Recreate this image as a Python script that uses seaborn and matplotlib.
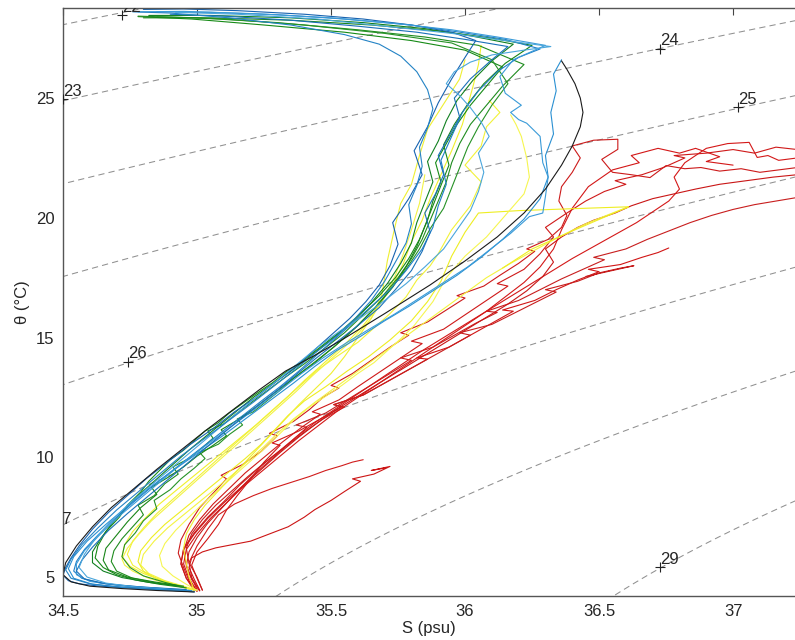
import numpy as np
import pandas as pd
import seaborn as sns
import matplotlib
matplotlib.use('Agg')
import matplotlib.pyplot as plt
import matplotlib.transforms as mtransforms

# ---- profiles: salinity S (psu) and potential temperature theta (degC) ----
# blue group
b1_s = [34.99, 34.90, 34.82, 34.72, 34.63, 34.56, 34.52, 34.50, 34.51, 34.53, 34.56, 34.61, 34.67, 34.74, 34.81,
        34.89, 34.97, 35.06, 35.14, 35.22, 35.30, 35.37, 35.43, 35.50, 35.57, 35.63, 35.68, 35.72, 35.75, 35.73,
        35.79, 35.84, 35.81, 35.86, 35.90, 35.95, 36.00, 36.04, 35.95, 35.80, 35.62, 35.40, 35.15, 34.95, 34.80]
b1_t = [4.38, 4.45, 4.50, 4.56, 4.63, 4.72, 4.85, 5.08, 5.40, 5.80, 6.30, 7.00, 7.70, 8.40, 9.10,
        9.80, 10.50, 11.20, 11.90, 12.50, 13.20, 13.80, 14.40, 15.10, 15.80, 16.50, 17.20, 18.00, 18.90, 19.80,
        20.80, 21.80, 22.80, 23.80, 24.80, 25.80, 26.70, 27.40, 27.75, 28.05, 28.30, 28.50, 28.65, 28.72, 28.70]
b2_s = [34.97, 34.86, 34.74, 34.64, 34.57, 34.54, 34.55, 34.58, 34.63, 34.69, 34.76, 34.84, 34.92, 35.00, 35.08,
        35.16, 35.24, 35.31, 35.38, 35.44, 35.51, 35.58, 35.65, 35.72, 35.78, 35.84, 35.88, 35.90, 35.93, 35.91,
        35.95, 35.99, 36.05, 36.12, 36.20, 36.28, 36.15, 35.98, 35.80, 35.55, 35.30, 35.05, 34.85]
b2_t = [4.42, 4.52, 4.62, 4.75, 4.95, 5.25, 5.65, 6.15, 6.75, 7.40, 8.10, 8.85, 9.55, 10.25, 10.95,
        11.65, 12.35, 12.95, 13.60, 14.20, 14.90, 15.60, 16.30, 17.00, 17.80, 18.70, 19.60, 20.50, 21.40, 22.40,
        23.40, 24.40, 25.30, 26.10, 26.70, 27.05, 27.45, 27.75, 28.05, 28.30, 28.48, 28.58, 28.60]
b3_s = [34.98, 34.85, 34.72, 34.61, 34.54, 34.52, 34.54, 34.59, 34.66, 34.74, 34.82, 34.91, 35.00, 35.09, 35.18,
        35.27, 35.36, 35.44, 35.52, 35.61, 35.70, 35.79, 35.88, 35.97, 36.06, 36.14, 36.22, 36.28, 36.31, 36.30,
        36.33, 36.32, 36.34, 36.33, 36.36]
b3_t = [4.40, 4.48, 4.57, 4.70, 4.95, 5.35, 5.85, 6.50, 7.20, 7.95, 8.70, 9.45, 10.15, 10.85, 11.60,
        12.35, 13.10, 13.80, 14.45, 15.05, 15.70, 16.30, 16.95, 17.60, 18.35, 19.10, 19.95, 20.80, 21.70, 22.60,
        23.50, 24.40, 25.30, 26.00, 26.60]
b4_s = [34.97, 34.84, 34.70, 34.60, 34.55, 34.55, 34.58, 34.64, 34.71, 34.79, 34.87, 34.95, 35.04, 35.13, 35.22,
        35.31, 35.39, 35.47, 35.56, 35.65, 35.74, 35.83, 35.92, 36.01, 36.09, 36.17, 36.24, 36.29, 36.30, 36.31,
        36.29, 36.28, 36.23, 36.20, 36.17, 36.21, 36.15, 36.13, 36.18, 36.30, 36.12, 35.95, 35.75, 35.50, 35.22,
        34.95, 34.78]
b4_t = [4.45, 4.55, 4.66, 4.82, 5.10, 5.55, 6.10, 6.80, 7.55, 8.30, 9.05, 9.80, 10.55, 11.30, 12.05,
        12.80, 13.50, 14.15, 14.80, 15.40, 16.00, 16.65, 17.30, 17.95, 18.65, 19.35, 20.05, 20.20, 20.90, 21.70,
        22.30, 23.40, 23.95, 24.10, 24.40, 24.70, 25.20, 25.90, 26.60, 27.20, 27.55, 27.85, 28.10, 28.35, 28.52,
        28.62, 28.60]
b5_s = [34.96, 34.80, 34.66, 34.58, 34.55, 34.57, 34.61, 34.67, 34.74, 34.82, 34.90, 34.98, 35.06, 35.14, 35.22,
        35.30, 35.37, 35.44, 35.52, 35.60, 35.68, 35.74, 35.80, 35.84, 35.87, 35.85, 35.89, 35.92, 35.90, 35.94,
        35.98, 35.96, 36.02, 36.10, 36.16, 36.00, 35.82, 35.60, 35.35, 35.10, 34.90]
b5_t = [4.48, 4.58, 4.72, 4.92, 5.25, 5.70, 6.25, 6.95, 7.65, 8.40, 9.15, 9.90, 10.65, 11.40, 12.10,
        12.80, 13.45, 14.10, 14.80, 15.50, 16.25, 17.00, 17.80, 18.60, 19.40, 20.20, 21.00, 21.80, 22.60, 23.40,
        24.20, 25.00, 25.80, 26.60, 27.15, 27.45, 27.75, 28.00, 28.25, 28.42, 28.50]
b6_s = [34.99, 34.88, 34.76, 34.66, 34.59, 34.56, 34.58, 34.62, 34.68, 34.75, 34.83, 34.91, 34.99, 35.07, 35.15,
        35.23, 35.31, 35.38, 35.45, 35.53, 35.62, 35.70, 35.78, 35.85, 35.92, 35.97, 36.02, 36.05, 36.07, 36.05,
        36.09, 36.06, 36.02, 35.98, 35.93, 35.96, 36.02, 36.10, 36.22, 36.32, 36.15, 35.95, 35.70, 35.45, 35.15,
        34.92]
b6_t = [4.40, 4.50, 4.60, 4.75, 5.00, 5.40, 5.95, 6.60, 7.35, 8.10, 8.85, 9.60, 10.35, 11.10, 11.85,
        12.60, 13.30, 13.95, 14.60, 15.25, 15.90, 16.55, 17.25, 17.95, 18.70, 19.50, 20.30, 21.10, 21.90, 22.70,
        23.40, 24.00, 24.60, 25.10, 25.60, 26.10, 26.50, 26.80, 27.00, 27.15, 27.40, 27.70, 28.00, 28.30, 28.50,
        28.58]
b7_s = [34.98, 34.85, 34.70, 34.60, 34.53, 34.51, 34.53, 34.57, 34.63, 34.70, 34.78, 34.86, 34.94, 35.03, 35.12,
        35.21, 35.29, 35.37, 35.44, 35.52, 35.59, 35.65, 35.70, 35.74, 35.78, 35.80, 35.79, 35.82, 35.84, 35.83,
        35.86, 35.88, 35.86, 35.82, 35.76, 35.68, 35.55, 35.35, 35.12, 34.90, 34.76]
b7_t = [4.43, 4.50, 4.60, 4.72, 4.95, 5.30, 5.75, 6.35, 7.05, 7.80, 8.55, 9.30, 10.05, 10.80, 11.55,
        12.30, 13.00, 13.70, 14.35, 15.05, 15.80, 16.55, 17.35, 18.15, 18.95, 19.75, 20.55, 21.35, 22.15, 22.95,
        23.75, 24.55, 25.35, 26.10, 26.75, 27.25, 27.65, 28.05, 28.35, 28.55, 28.60]

# green group
g1_s = [34.96, 34.86, 34.77, 34.70, 34.65, 34.62, 34.63, 34.66, 34.71, 34.74, 34.79, 34.82, 34.86, 34.90, 34.95,
        34.99, 35.03, 35.08, 35.12, 35.17, 35.22, 35.28, 35.33, 35.39, 35.46, 35.54, 35.61, 35.68, 35.74, 35.79,
        35.83, 35.86, 35.88, 35.91, 35.89, 35.93, 35.97, 36.02, 36.08, 36.14, 36.00, 35.80, 35.55, 35.25, 34.98,
        34.78]
g1_t = [4.55, 4.70, 4.88, 5.10, 5.40, 5.80, 6.30, 6.90, 7.50, 8.00, 8.55, 9.00, 9.45, 9.90, 10.30,
        10.70, 11.10, 11.45, 11.85, 12.25, 12.65, 13.10, 13.55, 14.00, 14.60, 15.30, 16.00, 16.75, 17.50, 18.30,
        19.10, 19.90, 20.70, 21.50, 22.30, 23.10, 23.90, 24.70, 25.50, 26.30, 27.00, 27.40, 27.75, 28.05, 28.30,
        28.40]
g2_s = [34.94, 34.85, 34.76, 34.70, 34.68, 34.69, 34.72, 34.76, 34.80, 34.78, 34.84, 34.88, 34.93, 34.91, 34.97,
        35.02, 35.06, 35.04, 35.10, 35.15, 35.21, 35.27, 35.33, 35.40, 35.47, 35.55, 35.62, 35.69, 35.75, 35.80,
        35.84, 35.87, 35.90, 35.93, 35.95, 35.98, 36.02, 36.08, 36.14, 36.22, 36.05, 35.85, 35.60, 35.30, 35.00,
        34.78]
g2_t = [4.60, 4.75, 4.95, 5.25, 5.65, 6.10, 6.60, 7.10, 7.60, 8.00, 8.40, 8.90, 9.30, 9.60, 9.95,
        10.40, 10.80, 11.10, 11.40, 11.85, 12.35, 12.85, 13.35, 13.90, 14.50, 15.20, 15.95, 16.70, 17.50, 18.30,
        19.10, 19.90, 20.70, 21.50, 22.30, 23.10, 23.90, 24.70, 25.50, 26.40, 27.20, 27.55, 27.85, 28.15, 28.35,
        28.42]
g3_s = [34.95, 34.82, 34.72, 34.65, 34.61, 34.61, 34.64, 34.68, 34.73, 34.79, 34.85, 34.91, 34.97, 35.03, 35.09,
        35.15, 35.21, 35.28, 35.35, 35.42, 35.50, 35.58, 35.65, 35.71, 35.76, 35.80, 35.82, 35.85, 35.88, 35.86,
        35.90, 35.93, 35.97, 36.03, 36.10, 36.18, 36.02, 35.85, 35.62, 35.35, 35.05, 34.82]
g3_t = [4.62, 4.78, 4.98, 5.25, 5.60, 6.05, 6.60, 7.20, 7.85, 8.50, 9.10, 9.70, 10.30, 10.85, 11.40,
        11.95, 12.50, 13.05, 13.60, 14.20, 14.90, 15.65, 16.45, 17.25, 18.10, 18.95, 19.80, 20.65, 21.50, 22.35,
        23.20, 24.05, 24.90, 25.75, 26.55, 27.25, 27.60, 27.90, 28.15, 28.35, 28.45, 28.45]
g4_s = [34.95, 34.88, 34.80, 34.75, 34.72, 34.73, 34.77, 34.80, 34.85, 34.84, 34.90, 34.94, 34.99, 35.03, 35.01,
        35.08, 35.12, 35.17, 35.15, 35.21, 35.26, 35.31, 35.36, 35.43, 35.51, 35.59, 35.66, 35.72, 35.78, 35.83,
        35.87, 35.92, 35.95, 35.98, 36.01, 36.05, 36.10, 36.16, 36.10, 35.95, 35.70, 35.40, 35.10, 34.85]
g4_t = [4.58, 4.78, 5.05, 5.40, 5.85, 6.35, 6.85, 7.35, 7.85, 8.20, 8.65, 9.10, 9.55, 9.95, 10.20,
        10.55, 10.95, 11.35, 11.60, 11.90, 12.35, 12.80, 13.30, 13.90, 14.60, 15.40, 16.20, 17.00, 17.85, 18.70,
        19.55, 20.40, 21.25, 22.10, 22.95, 23.80, 24.70, 25.60, 26.60, 27.30, 27.70, 28.05, 28.30, 28.40]
g5_s = [34.93, 34.84, 34.74, 34.67, 34.65, 34.66, 34.70, 34.74, 34.79, 34.85, 34.83, 34.89, 34.95, 35.00, 35.06,
        35.11, 35.09, 35.15, 35.22, 35.29, 35.36, 35.44, 35.52, 35.60, 35.67, 35.73, 35.78, 35.82, 35.85, 35.88,
        35.91, 35.94, 35.92, 35.96, 36.01, 36.07, 36.15, 36.25, 36.10, 35.90, 35.65, 35.35, 35.05, 34.80]
g5_t = [4.65, 4.80, 5.00, 5.30, 5.70, 6.20, 6.75, 7.30, 7.90, 8.45, 8.75, 9.15, 9.60, 10.05, 10.50,
        10.90, 11.15, 11.55, 12.10, 12.70, 13.30, 13.95, 14.70, 15.50, 16.30, 17.10, 17.95, 18.80, 19.65, 20.50,
        21.35, 22.20, 23.05, 23.90, 24.75, 25.60, 26.45, 27.20, 27.50, 27.80, 28.05, 28.25, 28.35, 28.35]

# yellow group
y1_s = [34.99, 34.93, 34.86, 34.80, 34.75, 34.72, 34.73, 34.76, 34.81, 34.86, 34.92, 34.98, 35.04, 35.10, 35.16,
        35.22, 35.28, 35.34, 35.40, 35.47, 35.55, 35.62, 35.68, 35.73, 35.77, 35.80, 35.84, 35.87, 35.91, 35.95,
        35.99, 36.03, 36.05, 36.06]
y1_t = [4.45, 4.65, 4.90, 5.15, 5.45, 5.85, 6.35, 6.90, 7.50, 8.05, 8.60, 9.15, 9.70, 10.25, 10.80,
        11.35, 11.95, 12.55, 13.20, 13.90, 14.70, 15.50, 16.35, 17.20, 18.10, 19.00, 19.90, 20.80, 21.80, 22.80,
        23.90, 25.50, 26.40, 27.20]
y2_s = [35.00, 34.95, 34.88, 34.82, 34.79, 34.80, 34.84, 34.89, 34.95, 35.01, 35.07, 35.13, 35.19, 35.25, 35.30,
        35.36, 35.44, 35.52, 35.60, 35.68, 35.76, 35.84, 35.92, 36.00, 36.08, 36.17, 36.26, 36.35, 36.45, 36.55,
        36.61]
y2_t = [4.45, 4.62, 4.85, 5.15, 5.50, 5.95, 6.50, 7.05, 7.60, 8.15, 8.70, 9.25, 9.85, 10.45, 11.00,
        11.60, 12.30, 12.95, 13.60, 14.25, 14.90, 15.55, 16.20, 16.85, 17.50, 18.10, 18.65, 19.20, 19.75, 20.20,
        20.46]
y3_s = [34.98, 34.92, 34.85, 34.80, 34.78, 34.79, 34.83, 34.88, 34.94, 35.00, 35.06, 35.12, 35.18, 35.24, 35.29,
        35.34, 35.40, 35.48, 35.56, 35.64, 35.72, 35.80, 35.86, 35.91, 35.95, 36.00, 36.05, 36.20, 36.40, 36.61,
        36.40, 36.25, 36.14]
y3_t = [4.47, 4.65, 4.92, 5.25, 5.65, 6.10, 6.65, 7.20, 7.75, 8.30, 8.85, 9.40, 9.95, 10.55, 11.15,
        11.75, 12.35, 12.95, 13.60, 14.20, 14.90, 15.70, 16.50, 17.35, 18.40, 19.40, 20.20, 20.30, 20.38, 20.46,
        19.45, 18.70, 17.90]
y4_s = [34.99, 34.94, 34.87, 34.81, 34.76, 34.74, 34.76, 34.80, 34.85, 34.91, 34.97, 35.03, 35.09, 35.15, 35.21,
        35.27, 35.33, 35.39, 35.45, 35.52, 35.60, 35.66, 35.72, 35.78, 35.82, 35.87, 35.90, 35.95, 36.02, 36.06,
        36.00, 36.06, 36.08, 36.13, 36.09]
y4_t = [4.45, 4.62, 4.85, 5.15, 5.50, 5.95, 6.50, 7.05, 7.65, 8.25, 8.85, 9.45, 10.05, 10.65, 11.25,
        11.85, 12.45, 13.05, 13.65, 14.20, 14.80, 15.40, 16.00, 16.70, 17.40, 18.00, 18.50, 19.50, 20.50, 21.50,
        22.20, 23.00, 23.80, 24.40, 24.90]
y5_s = [35.00, 34.96, 34.91, 34.87, 34.86, 34.88, 34.92, 34.97, 35.02, 35.08, 35.14, 35.20, 35.26, 35.31, 35.36,
        35.42, 35.48, 35.54, 35.60, 35.66, 35.71, 35.76, 35.81, 35.88, 35.93, 36.00, 36.08, 36.15, 36.22, 36.24,
        36.23, 36.21, 36.19, 36.17]
y5_t = [4.45, 4.70, 5.05, 5.45, 5.90, 6.40, 6.95, 7.50, 8.05, 8.65, 9.25, 9.85, 10.45, 11.00, 11.55,
        12.10, 12.55, 13.00, 13.50, 13.95, 14.45, 14.95, 15.50, 16.50, 17.50, 18.40, 19.20, 20.10, 21.00, 21.70,
        22.50, 23.40, 23.90, 24.30]
y6_s = [34.99, 34.97, 34.96, 34.95, 34.96, 34.99, 35.03, 35.08, 35.13, 35.18, 35.23, 35.28, 35.33, 35.38, 35.44,
        35.50, 35.55, 35.60, 35.65, 35.69, 35.71, 35.74, 35.76, 35.80, 35.83, 35.86, 35.92, 35.98, 36.00]
y6_t = [4.45, 5.00, 5.60, 6.20, 6.80, 7.40, 8.00, 8.60, 9.20, 9.80, 10.40, 11.00, 11.60, 12.20, 12.85,
        13.50, 14.20, 15.00, 15.80, 16.80, 18.20, 19.70, 20.60, 21.40, 22.60, 23.70, 24.75, 25.80, 26.60]
y7_s = [34.98, 34.90, 34.82, 34.76, 34.73, 34.72, 34.74, 34.78, 34.83, 34.89, 34.95, 35.01, 35.07, 35.13, 35.19,
        35.25, 35.31, 35.37, 35.43, 35.50, 35.58, 35.65, 35.70, 35.74, 35.77, 35.80, 35.83, 35.85]
y7_t = [4.50, 4.70, 4.95, 5.25, 5.50, 5.75, 6.20, 6.75, 7.35, 7.95, 8.55, 9.15, 9.75, 10.35, 10.95,
        11.55, 12.15, 12.75, 13.40, 14.10, 14.90, 15.80, 16.70, 17.60, 18.50, 19.50, 20.60, 21.80]

# red group
r1_s = [35.00, 34.97, 34.95, 34.93, 34.94, 34.97, 35.01, 35.06, 35.11, 35.09, 35.17, 35.24, 35.30, 35.27, 35.36,
        35.42, 35.47, 35.53, 35.50, 35.58, 35.65, 35.72, 35.79, 35.76, 35.86, 35.93, 36.00, 35.97, 36.07, 36.13,
        36.20, 36.26, 36.23, 36.31, 36.36, 36.38, 36.35, 36.36, 36.40, 36.43, 36.40, 36.48, 36.57, 36.57, 36.51,
        36.55, 36.62, 36.69, 36.75, 36.82, 36.88, 36.95, 37.03, 37.10, 37.17, 37.24]
r1_t = [4.40, 4.85, 5.40, 6.00, 6.55, 7.20, 7.90, 8.50, 9.10, 9.25, 9.70, 10.25, 10.90, 11.00, 11.50,
        12.00, 12.50, 12.90, 13.00, 13.50, 14.05, 14.60, 15.10, 15.20, 15.65, 16.15, 16.65, 16.75, 17.15, 17.60,
        18.10, 18.60, 18.70, 19.10, 19.60, 20.10, 20.70, 21.30, 21.90, 22.50, 23.00, 23.24, 23.28, 22.86, 22.44,
        21.90, 21.80, 21.68, 22.18, 22.05, 22.10, 21.95, 22.05, 21.90, 22.00, 22.10]
r2_s = [35.02, 35.00, 34.98, 35.00, 35.04, 35.08, 35.11, 35.15, 35.20, 35.25, 35.31, 35.28, 35.38, 35.46, 35.54,
        35.51, 35.62, 35.70, 35.78, 35.86, 35.82, 35.94, 36.02, 36.10, 36.18, 36.14, 36.26, 36.34, 36.42, 36.50,
        36.46, 36.58, 36.66, 36.72, 36.76]
r2_t = [4.45, 4.95, 5.50, 6.05, 6.60, 7.20, 7.80, 8.40, 9.10, 9.80, 10.50, 10.60, 11.10, 11.60, 12.10,
        12.20, 12.60, 13.10, 13.60, 14.10, 14.15, 14.60, 15.10, 15.60, 16.10, 16.15, 16.55, 17.00, 17.40, 17.75,
        17.85, 18.05, 18.35, 18.55, 18.74]
r3_s = [35.01, 34.98, 34.96, 34.97, 35.00, 35.04, 35.09, 35.14, 35.20, 35.27, 35.34, 35.41, 35.37, 35.48, 35.56,
        35.64, 35.72, 35.80, 35.76, 35.88, 35.96, 36.04, 36.12, 36.08, 36.20, 36.28, 36.36, 36.44, 36.52, 36.48,
        36.60, 36.68, 36.76, 36.84, 36.92, 37.00, 37.08, 37.16, 37.24]
r3_t = [4.42, 4.90, 5.45, 6.05, 6.65, 7.25, 7.85, 8.45, 9.15, 9.85, 10.55, 11.25, 11.35, 11.85, 12.40,
        12.95, 13.50, 14.05, 14.15, 14.60, 15.10, 15.60, 16.05, 16.10, 16.55, 17.00, 17.45, 17.85, 18.25, 18.35,
        18.70, 19.10, 19.45, 19.80, 20.10, 20.35, 20.55, 20.70, 20.85]
r4_s = [35.00, 34.96, 34.94, 34.95, 34.99, 35.04, 35.10, 35.16, 35.23, 35.30, 35.37, 35.44, 35.52, 35.60, 35.68,
        35.76, 35.84, 35.92, 36.00, 36.08, 36.16, 36.24, 36.32, 36.40, 36.48, 36.56, 36.64, 36.70, 36.76, 36.80,
        36.78, 36.82, 36.90, 36.98, 37.06, 37.09, 37.13, 37.17, 37.24]
r4_t = [4.42, 4.95, 5.55, 6.20, 6.85, 7.50, 8.15, 8.85, 9.55, 10.20, 10.85, 11.45, 12.05, 12.65, 13.25,
        13.85, 14.45, 15.00, 15.55, 16.10, 16.65, 17.20, 17.75, 18.30, 18.80, 19.30, 19.80, 20.25, 20.70, 21.20,
        21.70, 22.30, 22.90, 23.10, 23.15, 22.52, 22.60, 22.40, 22.50]
r5_s = [35.01, 34.99, 34.97, 34.98, 35.02, 35.07, 35.13, 35.20, 35.27, 35.34, 35.40, 35.44, 35.50, 35.55, 35.61,
        35.58, 35.66, 35.72, 35.65, 35.70]
r5_t = [4.45, 4.90, 5.40, 5.80, 6.05, 6.22, 6.35, 6.50, 6.80, 7.10, 7.50, 7.82, 8.20, 8.57, 9.00,
        9.10, 9.30, 9.62, 9.45, 9.55]
r6_s = [35.00, 34.98, 34.97, 35.00, 35.04, 35.08, 35.14, 35.21, 35.28, 35.35, 35.42, 35.48, 35.54, 35.58, 35.62]
r6_t = [4.48, 5.00, 5.60, 6.30, 7.00, 7.60, 8.05, 8.40, 8.70, 8.95, 9.20, 9.45, 9.65, 9.80, 9.90]
r7_s = [34.99, 34.96, 34.94, 34.95, 34.99, 35.04, 35.10, 35.17, 35.24, 35.31, 35.38, 35.45, 35.52, 35.60, 35.68,
        35.76, 35.84, 35.92, 36.00, 36.08, 36.16, 36.23, 36.29, 36.33, 36.30, 36.36, 36.42, 36.48, 36.56, 36.62,
        36.70, 36.78, 36.86, 36.95, 37.05, 37.15, 37.24]
r7_t = [4.42, 4.95, 5.55, 6.15, 6.80, 7.45, 8.10, 8.80, 9.50, 10.20, 10.85, 11.45, 12.00, 12.55, 13.10,
        13.65, 14.20, 14.75, 15.30, 15.85, 16.40, 16.95, 17.55, 18.15, 18.70, 19.20, 19.60, 19.90, 20.20, 20.50,
        20.80, 21.00, 21.20, 21.40, 21.55, 21.70, 21.80]
r8_s = [35.01, 34.98, 34.96, 34.95, 34.97, 35.01, 35.06, 35.12, 35.18, 35.25, 35.32, 35.39, 35.46, 35.43, 35.53,
        35.60, 35.68, 35.76, 35.84, 35.80, 35.92, 36.00, 36.08, 36.16, 36.12, 36.22, 36.28, 36.33, 36.30, 36.38,
        36.45, 36.52, 36.60, 36.56, 36.66, 36.74, 36.82, 36.78, 36.90, 37.00, 37.08, 37.16, 37.24]
r8_t = [4.44, 4.95, 5.50, 6.10, 6.75, 7.40, 8.05, 8.70, 9.35, 10.00, 10.65, 11.25, 11.80, 11.90, 12.40,
        12.95, 13.55, 14.15, 14.75, 14.85, 15.35, 15.95, 16.55, 17.15, 17.25, 17.85, 18.50, 19.20, 19.60, 20.20,
        20.70, 21.10, 21.40, 21.55, 21.80, 22.10, 22.50, 22.60, 22.70, 22.85, 22.70, 22.95, 22.85]
r9_s = [35.02, 35.00, 34.97, 34.96, 34.98, 35.02, 35.07, 35.13, 35.19, 35.26, 35.33, 35.40, 35.47, 35.55, 35.51,
        35.62, 35.70, 35.78, 35.86, 35.94, 36.02, 35.98, 36.10, 36.18, 36.26, 36.34, 36.30, 36.42, 36.50, 36.58,
        36.63, 36.55, 36.45]
r9_t = [4.46, 5.00, 5.60, 6.20, 6.80, 7.40, 8.00, 8.60, 9.20, 9.85, 10.45, 11.05, 11.60, 12.10, 12.20,
        12.60, 13.10, 13.60, 14.10, 14.60, 15.10, 15.20, 15.55, 16.00, 16.45, 16.90, 17.00, 17.35, 17.70, 17.90,
        18.00, 17.80, 17.55]
r10_s = [35.00, 34.97, 34.95, 34.96, 35.00, 35.05, 35.11, 35.17, 35.24, 35.31, 35.38, 35.45, 35.52, 35.60, 35.68,
         35.76, 35.84, 35.92, 36.00, 36.08, 36.15, 36.22, 36.28, 36.33, 36.36, 36.40, 36.46, 36.55, 36.65, 36.62,
         36.72, 36.80, 36.86, 36.95, 36.90, 37.00]
r10_t = [4.43, 4.95, 5.55, 6.15, 6.80, 7.45, 8.10, 8.75, 9.40, 10.05, 10.70, 11.30, 11.90, 12.50, 13.10,
         13.70, 14.30, 14.90, 15.50, 16.10, 16.70, 17.30, 17.95, 18.70, 19.50, 20.40, 21.30, 22.00, 22.30, 22.60,
         22.90, 22.70, 22.90, 22.55, 22.35, 22.20]

# black profile
k1_s = [34.99, 34.85, 34.72, 34.60, 34.53, 34.50, 34.51, 34.55, 34.61, 34.68, 34.76, 34.85, 34.94, 35.03, 35.13,
        35.23, 35.33, 35.43, 35.54, 35.70, 35.87, 36.00, 36.12, 36.22, 36.30, 36.36, 36.40, 36.43, 36.44, 36.43,
        36.41, 36.38, 36.36]
k1_t = [4.38, 4.44, 4.52, 4.62, 4.80, 5.10, 5.60, 6.30, 7.10, 7.90, 8.65, 9.50, 10.30, 11.10, 11.95,
        12.80, 13.60, 14.20, 14.90, 16.00, 17.20, 18.20, 19.20, 20.20, 21.20, 22.20, 23.00, 23.80, 24.40, 25.00,
        25.60, 26.20, 26.55]

# density contour levels and clabel positions
sigma_levels = [22, 23, 24, 25, 26, 27, 28, 29]
lab_s = [34.72, 34.50, 36.728, 37.02, 34.743, 34.462, 36.728]
lab_t = [28.45, 24.96, 27.06, 24.62, 13.99, 7.09, 5.42]
lab_txt = ['22', '23', '24', '25', '26', '27', '29']

profiles = [
    ('r1', r1_s, r1_t), ('r2', r2_s, r2_t), ('r3', r3_s, r3_t), ('r4', r4_s, r4_t),
    ('r5', r5_s, r5_t), ('r6', r6_s, r6_t), ('r7', r7_s, r7_t), ('r8', r8_s, r8_t),
    ('r9', r9_s, r9_t), ('r10', r10_s, r10_t),
    ('y1', y1_s, y1_t), ('y2', y2_s, y2_t), ('y3', y3_s, y3_t), ('y4', y4_s, y4_t),
    ('y5', y5_s, y5_t), ('y6', y6_s, y6_t), ('y7', y7_s, y7_t),
    ('g1', g1_s, g1_t), ('g2', g2_s, g2_t), ('g3', g3_s, g3_t), ('g4', g4_s, g4_t), ('g5', g5_s, g5_t),
    ('b1', b1_s, b1_t), ('b2', b2_s, b2_t), ('b3', b3_s, b3_t), ('b4', b4_s, b4_t),
    ('b5', b5_s, b5_t), ('b6', b6_s, b6_t), ('b7', b7_s, b7_t),
    ('k1', k1_s, k1_t),
]
colors = {
    'r1': '#cc1a1a', 'r2': '#d11515', 'r3': '#c81e1e', 'r4': '#d41818', 'r5': '#cc1515', 'r6': '#d01c1c',
    'r7': '#c91616', 'r8': '#cf1919', 'r9': '#c71d1d', 'r10': '#d31717',
    'y1': '#f0f02c', 'y2': '#f4f440', 'y3': '#eeee22', 'y4': '#f2f238', 'y5': '#f6f650', 'y6': '#efef30',
    'y7': '#f3f345',
    'g1': '#168a16', 'g2': '#1f8c1f', 'g3': '#118020', 'g4': '#269226', 'g5': '#188518',
    'b1': '#1763b0', 'b2': '#1f7fc8', 'b3': '#2a90d2', 'b4': '#3a9bd8', 'b5': '#1a70b8', 'b6': '#4aa6dc',
    'b7': '#2483c5',
    'k1': '#1a1a1a',
}

frames = []
for name, s, t in profiles:
    frames.append(pd.DataFrame({'S': s, 'T': t, 'profile': name}))
df = pd.concat(frames, ignore_index=True)


def sigma0(S, T):
    # UNESCO EOS-80 density at p = 0, minus 1000
    rw = (999.842594 + 6.793952e-2 * T - 9.095290e-3 * T**2 + 1.001685e-4 * T**3
          - 1.120083e-6 * T**4 + 6.536332e-9 * T**5)
    A = 8.24493e-1 - 4.0899e-3 * T + 7.6438e-5 * T**2 - 8.2467e-7 * T**3 + 5.3875e-9 * T**4
    B = -5.72466e-3 + 1.0227e-4 * T - 1.6546e-6 * T**2
    C = 4.8314e-4
    return rw + A * S + B * S**1.5 + C * S**2 - 1000.0


sns.set_style('white')
plt.rcParams['font.family'] = ['Liberation Sans', 'DejaVu Sans']

fig = plt.figure(figsize=(7.95, 6.4), dpi=100)
ax = fig.add_axes([63 / 795, 44 / 640, 1 - 63 / 795, 588 / 640])

sg, tg = np.meshgrid(np.linspace(34.3, 37.6, 200), np.linspace(3.0, 30.0, 200))
ax.contour(sg, tg, sigma0(sg, tg), levels=sigma_levels, colors='#909090',
           linewidths=0.75, linestyles=[(0, (6, 4))], zorder=1)

sns.lineplot(data=df, x='S', y='T', hue='profile', hue_order=[p[0] for p in profiles],
             palette=colors, sort=False, estimator=None, legend=False, lw=0.8, ax=ax, zorder=2)

ax.plot(lab_s, lab_t, '+', color='#222222', ms=7, mew=0.8, zorder=3)
off = mtransforms.offset_copy(ax.transData, fig=fig, x=0, y=2.5, units='points')
for s, t, txt in zip(lab_s, lab_t, lab_txt):
    ax.text(s, t, txt, transform=off, fontsize=12, ha='left', va='baseline', clip_on=True, zorder=3)

ax.set_xlim(34.5, 37.231)
ax.set_ylim(4.21, 28.76)
ax.set_xticks([34.5, 35, 35.5, 36, 36.5, 37])
ax.set_xticklabels(['34.5', '35', '35.5', '36', '36.5', '37'])
ax.set_yticks([5, 10, 15, 20, 25])
ax.tick_params(axis='both', direction='in', length=5, width=0.8, color='#444444',
               labelsize=12, top=True, right=False, pad=6)
for side in ['top', 'left', 'bottom']:
    ax.spines[side].set_color('#555555')
    ax.spines[side].set_linewidth(1.0)
ax.spines['right'].set_visible(False)

ax.set_xlabel('S (psu)', fontsize=12, labelpad=1)
ax.set_ylabel('\u03b8 (\u00b0C)', fontsize=12, labelpad=4)

fig.savefig('out.png', dpi=100)
